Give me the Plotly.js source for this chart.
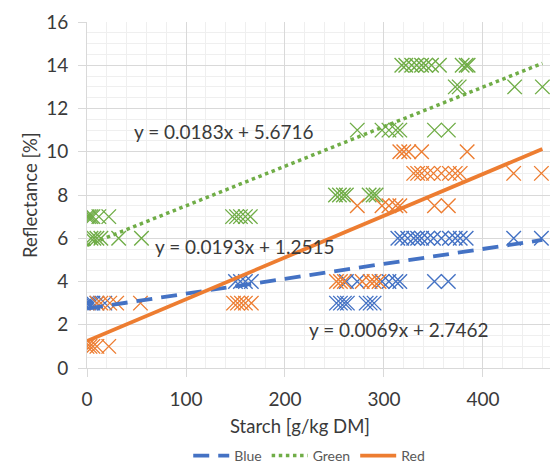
<!DOCTYPE html>
<html>
<head>
<meta charset="utf-8">
<script src="https://cdn.plot.ly/plotly-3.0.1.min.js"></script>
<style>html,body{margin:0;padding:0;background:#fff;}#chart{width:550px;height:472px;}</style>
</head>
<body>
<div id="chart"></div>
<script>
// Starch [g/kg DM] vs Reflectance [%]
const blueX = [0, 2, 4, 6, 10, 18, 150, 155, 160, 166, 252, 256, 260, 263, 282, 286, 290,
  262, 273, 298, 305, 312, 316, 351, 365,
  314, 318, 324, 330, 334, 338, 344, 350, 358, 366, 372, 377, 383, 431, 459];
const blueY = [3, 3, 3, 3, 3, 3, 4, 4, 4, 4, 3, 3, 3, 3, 3, 3, 3,
  4, 4, 4, 4, 4, 4, 4, 4,
  6, 6, 6, 6, 6, 6, 6, 6, 6, 6, 6, 6, 6, 6, 6];

const greenX = [0, 2, 4, 6, 12, 22, 4, 7, 10, 14, 32, 55, 147, 151, 155, 160, 165,
  251, 255, 259, 262, 285, 289, 292,
  273, 298, 305, 312, 316, 351, 365,
  318, 322, 328, 333, 338, 342, 348, 356, 379, 383, 385,
  372, 376, 432, 460];
const greenY = [7, 7, 7, 7, 7, 7, 6, 6, 6, 6, 6, 6, 7, 7, 7, 7, 7,
  8, 8, 8, 8, 8, 8, 8,
  11, 11, 11, 11, 11, 11, 11,
  14, 14, 14, 14, 14, 14, 14, 14, 14, 14, 14,
  13, 13, 13, 13];

const redX = [0, 3, 6, 10, 22, 10, 14, 23, 30, 54, 148, 152, 156, 160, 166,
  252, 256, 260, 278, 286, 290, 295,
  273, 298, 305, 312, 316, 351, 365,
  330, 334, 338, 344, 350, 358, 366, 372, 377, 431, 459,
  316, 320, 325, 338, 384];
const redY = [1, 1, 1, 1, 1, 3, 3, 3, 3, 3, 3, 3, 3, 3, 3,
  4, 4, 4, 4, 4, 4, 4,
  7.5, 7.5, 7.5, 7.5, 7.5, 7.5, 7.5,
  9, 9, 9, 9, 9, 9, 9, 9, 9, 9, 9,
  10, 10, 10, 10, 10];

// Linear trendlines (slope, intercept) as printed on the chart
const seriesNames = ['Blue', 'Green', 'Red'];
const slopes = [0.0069, 0.0183, 0.0193];
const intercepts = [2.7462, 5.6716, 1.2515];
const trendXRange = [0, 460];
const equationLabels = ['y = 0.0069x + 2.7462', 'y = 0.0183x + 5.6716', 'y = 0.0193x + 1.2515'];

const xTicks = [0, 100, 200, 300, 400];
const yTicks = [0, 2, 4, 6, 8, 10, 12, 14, 16];

const colors = ['#4472C4', '#70AD47', '#ED7D31'];
const dashes = ['16px,9px', '3.5px,3.6px', 'solid'];
const FONT = 'Lato, "Open Sans", sans-serif';
const TEXT = '#3a3a3a';

const pts = [[blueX, blueY], [greenX, greenY], [redX, redY]];
const traces = [];
pts.forEach((p, i) => {
  traces.push({
    type: 'scatter', mode: 'markers', x: p[0], y: p[1],
    name: seriesNames[i] + ' data', showlegend: false, hoverinfo: 'x+y',
    marker: {symbol: 'x-thin-open', size: 14.5, color: colors[i], line: {color: colors[i], width: 1.4}}
  });
});
pts.forEach((p, i) => {
  traces.push({
    type: 'scatter', mode: 'lines', x: trendXRange,
    y: trendXRange.map(x => slopes[i] * x + intercepts[i]),
    name: seriesNames[i], showlegend: true,
    line: {color: colors[i], width: i === 1 ? 3.5 : 3.8, dash: dashes[i]}
  });
});

const eqPos = [[315, 1.8], [138, 10.95], [158.6, 5.63]];
const annotations = equationLabels.map((t, i) => ({
  text: t, x: eqPos[i][0], y: eqPos[i][1], xref: 'x', yref: 'y',
  showarrow: false, xanchor: 'center', yanchor: 'middle',
  font: {family: FONT, size: 19, color: TEXT}
}));
annotations.push({
  text: 'Reflectance [%]', xref: 'paper', yref: 'paper', x: -0.123, y: 0.5,
  textangle: -90, showarrow: false, xanchor: 'center', yanchor: 'middle',
  font: {family: FONT, size: 18.5, color: TEXT}
});
annotations.push({
  text: 'Starch [g/kg DM]', xref: 'paper', yref: 'paper', x: 0.46, y: -0.168,
  showarrow: false, xanchor: 'center', yanchor: 'middle',
  font: {family: FONT, size: 18.5, color: TEXT}
});

const axisCommon = {
  showgrid: true, gridcolor: '#D9D9D9', gridwidth: 1,
  ticks: 'outside', ticklen: 8, tickcolor: '#D9D9D9', tickwidth: 1,
  showline: true, linecolor: '#D9D9D9', linewidth: 1,
  zeroline: false, fixedrange: true,
  tickfont: {family: FONT, size: 19, color: TEXT}
};

const layout = {
  width: 550, height: 472,
  margin: {l: 87, r: 0, t: 22, b: 95, pad: 0},
  paper_bgcolor: '#fff', plot_bgcolor: '#fff',
  showlegend: true,
  legend: {orientation: 'h', x: 0.48, xanchor: 'center', y: -0.255, yanchor: 'middle',
    itemwidth: 36, font: {family: FONT, size: 14, color: '#595959'}, bgcolor: 'rgba(0,0,0,0)'},
  xaxis: Object.assign({}, axisCommon, {range: [0, 467.7], tickvals: xTicks, ticktext: xTicks.map(String),
    ticklabelstandoff: 6,
    minor: {dtick: 20, tick0: 0, showgrid: true, gridcolor: '#EFEFEF', gridwidth: 1, ticks: ''}}),
  yaxis: Object.assign({}, axisCommon, {range: [0, 16], tickvals: yTicks, ticktext: yTicks.map(String),
    ticklabelstandoff: 6,
    minor: {dtick: 0.5, tick0: 0, showgrid: true, gridcolor: '#EFEFEF', gridwidth: 1, ticks: ''}}),
  annotations: annotations
};

Plotly.newPlot('chart', traces, layout, {staticPlot: true, displayModeBar: false});
</script>
</body>
</html>
